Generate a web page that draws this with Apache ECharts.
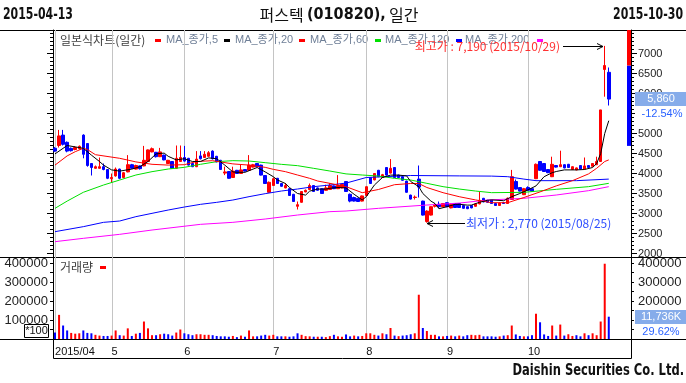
<!DOCTYPE html>
<html><head><meta charset="utf-8">
<script src="https://cdn.jsdelivr.net/npm/echarts@6/dist/echarts.min.js"></script>
<style>html,body{margin:0;padding:0;background:#fff}#c{width:686px;height:383px}</style>
</head><body><div id="c"></div>
<script>
// ---- trading days (categories) ----
const daysApr = [13,14,15,16,17,20,21,22,23,24,27,28,29,30];
const daysMay = [4,6,7,8,11,12,13,14,15,18,19,20,21,22,26,27,28,29];
const daysJun = [1,2,3,4,5,8,9,10,11,12,15,16,17,18,19,22,23,24,25,26,29,30];
const daysJul = [1,2,3,6,7,8,9,10,13,14,15,16,17,20,21,22,23,24,27,28,29,30,31];
const daysAug = [3,4,5,6,7,10,11,12,13,17,18,19,20,21,24,25,26,27,28,31];
const daysSep = [1,2,3,4,7,8,9,10,11,14,15,16,17,18,21,22,23,24,25,30];
const daysOct = [1,2,5,6,7,8,12,13,14,15,16,19,20,21,22,23,26,27,28,29,30];
const monthKeys = ['2015/04','2015/05','2015/06','2015/07','2015/08','2015/09','2015/10'];
const emptySlots = 5;

// ---- OHLC ----
const opens = [4630,4700,4960,4780,4630,4600,4620,4960,4750,4250, 4130,4130,4170,4100,3870,3940,4110,3900,4040,4220,
 4110,4190,4190,4300,4540,4530,4420,4460,4250,4300, 4130,4300,4400,4380,4250,4170,4440,4400,4430,4560,
 4430,4330,4010,4050,3900,4080,4000,4100,4080,4160, 4250,4210,3950,3530,3700,3880,3750,3640,3620,3480,
 3180,3280,3540,3600,3700,3640,3620,3580,3600,3690, 3620,3640,3800,3480,3400,3380,3310,3450,3900,3840,
 4080,3900,4150,4010,4150,3960,3920,3810,3460,3400, 3860,3310,2800,2960,3180,3230,3170,3270,3140,3250,
 3250,3200,3170,3200,3180,3240,3380,3330,3330,3250, 3200,3270,3250,3350,3800,3650,3470,3650,3620,3870,
 4300,4250,4100,3920,4200,4170,4220,4230,4100,4090, 4200,4110,4200,4180,4220,4300,6600,6530];
const closes = [4560,4940,4730,4560,4570,4650,4680,4480,4200,4150, 4170,4170,4100,3880,3900,4110,3880,4020,4220,4130,
 4200,4120,4330,4590,4620,4420,4540,4340,4330,4130, 4380,4400,4310,4210,4170,4360,4370,4480,4520,4370,
 4290,4100,4040,3880,4060,4000,4090,4060,4210,4220, 4170,3960,3750,3780,3870,3750,3680,3700,3450,3300,
 3220,3550,3580,3700,3550,3580,3500,3640,3700,3620, 3700,3730,3550,3310,3310,3300,3440,3670,3750,4000,
 3920,3970,3960,4130,3900,3900,3830,3530,3360,3410, 3660,2960,3060,3170,3210,3170,3250,3170,3230,3150,
 3150,3130,3120,3140,3240,3330,3290,3280,3250,3200, 3260,3250,3380,3920,3610,3560,3620,3580,3560,4230,
 4080,4050,4020,4230,4160,4220,4140,4150,4170,4140, 4110,4190,4150,4250,4300,5590,6700,5860];
const lows = [4540,4650,4700,4530,4550,4580,4600,4380,4170,3950, 4120,4120,4080,3860,3770,3920,3860,3880,4030,4120,
 4100,4100,4180,4290,4530,4400,4410,4330,4240,4120, 4120,4290,4300,4200,4160,4160,4350,4390,4420,4350,
 4280,4090,3960,3870,3890,3990,3990,4050,4070,4150, 4160,3950,3740,3520,3690,3740,3670,3630,3440,3290,
 3100,3270,3530,3590,3540,3570,3490,3570,3590,3610, 3610,3630,3540,3280,3300,3290,3300,3440,3740,3830,
 3910,3890,3950,4000,3890,3890,3820,3520,3350,3350, 3400,2950,2770,2950,3150,3130,3160,3160,3130,3140,
 3140,3120,3110,3130,3170,3230,3280,3270,3240,3190, 3190,3240,3240,3340,3600,3550,3460,3570,3550,3860,
 4070,4040,4010,3910,4150,4160,4130,4140,4090,4080, 4100,4100,4140,4170,4210,4290,5920,5700];
const highs = [4660,5090,5090,4800,4650,4680,4700,4980,4760,4260, 4200,4400,4250,4110,4000,4150,4120,4040,4460,4240,
 4220,4200,4690,4600,4650,4540,4640,4470,4340,4310, 4700,4700,4690,4390,4260,4560,4560,4560,4560,4580,
 4440,4340,4170,4060,4170,4090,4220,4110,4460,4240, 4260,4220,3960,3800,3900,3890,3760,3760,3630,3490,
 3300,3560,3600,3750,3710,3650,3630,3720,3760,3700, 3960,3740,3810,3500,3420,3390,3450,3680,3910,4010,
 4090,3990,4160,4360,4160,3970,3930,3820,3470,3450, 4200,3320,3080,3180,3260,3300,3260,3280,3250,3260,
 3260,3210,3180,3210,3260,3540,3390,3340,3340,3260, 3270,3290,3400,4090,3850,3660,3640,3680,3630,4250,
 4310,4260,4110,4420,4210,4570,4230,4240,4180,4150, 4210,4400,4210,4260,4420,5590,7190,6650];
// ---- volume (x100 shares) ----
const volumes = [34000,127000,71000,45000,32000,28000,30000,45000,32000,30000, 22000,18000,16000,16000,18000,45000,20000,18000,56000,16000,
 28000,32000,92000,56000,20000,20000,25000,28000,25000,18000, 34000,50000,30000,25000,20000,25000,25000,22000,22000,20000,
 16000,14000,14000,12000,16000,10000,18000,12000,45000,14000, 14000,18000,22000,18000,22000,14000,14000,14000,12000,14000,
 30000,22000,15000,14000,12000,12000,12000,10000,15000,22000, 14000,12000,24000,14000,18000,14000,16000,30000,30000,22000,
 18000,30000,25000,58000,18000,15000,18000,20000,25000,30000, 233000,58000,42000,22000,22000,14000,14000,16000,18000,14000,
 18000,14000,20000,22000,20000,22000,14000,14000,14000,12000, 14000,18000,20000,71000,24000,16000,14000,14000,20000,133000,
 88000,24000,16000,71000,18000,76000,18000,25000,16000,20000, 14000,30000,20000,30000,20000,92000,396200,117360];
// ---- moving averages: [dayIndex, value] ----
const ma5 = [[0,4490],[3,4700],[7,4630],[9,4460],[11,4300],[12,4210],[14,4090],[16,4060],[19,4110],[21,4170],[23,4300],[25,4490],[27,4510],[28,4430],[30,4340],[32,4370],[34,4300],[36,4300],[38,4390],[40,4370],[42,4210],[44,4040],[45,4030],[47,4030],[49,4110],[50,4150],[52,4040],[54,3920],[55,3840],[57,3750],[58,3650],[60,3500],[62,3460],[63,3560],[65,3610],[67,3610],[68,3630],[70,3650],[72,3640],[74,3480],[76,3340],[77,3420],[79,3710],[81,3900],[83,3960],[85,3960],[87,3940],[88,3800],[90,3670],[91,3500],[93,3310],[94,3250],[95,3120],[97,3170],[99,3230],[100,3230],[102,3210],[103,3210],[105,3280],[107,3330],[108,3340],[111,3320],[113,3420],[115,3500],[117,3590],[119,3690],[121,3920],[123,4020],[124,4050],[126,4090],[129,4090],[131,4100],[133,4150],[134,4250],[135,4500],[136,5000],[137,5320]];
const ma20 = [[0,4210],[3,4440],[5,4545],[7,4630],[8,4600],[10,4470],[16,4380],[20,4290],[24,4230],[28,4210],[32,4220],[35,4300],[39,4320],[44,4240],[48,4210],[52,4154],[54,4104],[57,4046],[60,3962],[63,3879],[65,3812],[68,3754],[72,3671],[76,3520],[80,3600],[84,3720],[88,3750],[90,3750],[92,3650],[96,3520],[100,3420],[104,3340],[108,3270],[112,3270],[116,3400],[120,3540],[124,3690],[128,3820],[132,3990],[134,4130],[136,4300],[137,4340]];
const ma60 = [[0,3130],[3,3310],[7,3530],[12,3712],[16,3837],[20,3962],[24,4046],[28,4112],[32,4154],[36,4230],[40,4296],[44,4321],[48,4312],[52,4271],[56,4229],[60,4196],[64,4129],[68,4062],[72,3990],[76,3962],[80,3937],[84,3879],[88,3837],[92,3754],[96,3671],[100,3612],[104,3562],[108,3521],[116,3529],[124,3604],[132,3671],[137,3754]];
const ma120 = [[0,2546],[7,2671],[12,2779],[16,2812],[20,2921],[24,3004],[28,3087],[32,3162],[36,3229],[40,3279],[44,3337],[48,3421],[52,3496],[56,3562],[60,3612],[64,3671],[68,3712],[72,3760],[77,3900],[88,3950],[100,3940],[108,3935],[112,3920],[116,3860],[119,3821],[129,3821],[137,3860]];
const ma200 = [[0,2296],[7,2379],[16,2479],[24,2587],[36,2729],[44,2779],[52,2862],[60,2962],[68,3046],[72,3062],[80,3129],[92,3212],[100,3260],[107,3337],[116,3379],[124,3462],[132,3571],[137,3671]];
// ---- price limits of the last day and tick labels ----
const limitLow = 4690, limitHigh = 8710;
const priceLabels = [2000,2500,3000,3500,4000,4500,5000,5500,6000,6500,7000];
const priceTicks = [2000,2100,2200,2300,2400,2500,2600,2700,2800,2900,3000,3100,3200,3300,3400,3500,3600,3700,3800,3900,4000,4100,4200,4300,4400,4500,4600,4700,4800,4900,5000,5100,5200,5300,5400,5500,5600,5700,5800,5900,6000,6100,6200,6300,6400,6500,6600,6700,6800,6900,7000,7100,7200,7300,7400,7500];
const volLabels = [100000,200000,300000,400000];
const volTicks = [50000,100000,150000,200000,250000,300000,350000,400000];

// ---------------------------------------------------------------
const dayLists = [daysApr,daysMay,daysJun,daysJul,daysAug,daysSep,daysOct];
const dates = [];
dayLists.forEach((ds, m) => ds.forEach(d => dates.push(monthKeys[m] + '/' + String(d).padStart(2,'0'))));
const categories = dates.concat(Array.from({length: emptySlots}, (_, i) => 'pad' + i));
const monthStarts = [];
dates.forEach((d, i) => { if (i === 0 || d.slice(0,7) !== dates[i-1].slice(0,7)) monthStarts.push(i); });
const monthStartSet = new Set(monthStarts);
const nDays = dates.length;
const candleData = dates.map((d, i) => [opens[i], closes[i], lows[i], highs[i]]);

let hiIdx = 0, loIdx = 0;
highs.forEach((v, i) => { if (v > highs[hiIdx]) hiIdx = i; });
lows.forEach((v, i) => { if (v < lows[loIdx]) loIdx = i; });

const PMIN = 1912.5, PMAX = 7587.5, VMIN = 0, VMAX = 431600;
const RED = '#ff0000', BLUE = '#0000ff';
const KFONT = '"Noto Sans CJK KR", sans-serif';
const NFONT = '"Liberation Sans", Arial, sans-serif';
const BFONT = '"Liberation Sans Narrow", "DejaVu Sans Condensed", "Liberation Sans", sans-serif';
const fmt = v => String(v).replace(/\B(?=(\d{3})+(?!\d))/g, ',');
const plain = v => String(v);

function vline(params, api) {
  const x = Math.round(api.coord([api.value(0), api.value(1)])[0]) + 0.5;
  const cs = params.coordSys;
  return {type: 'line', shape: {x1: x, y1: cs.y, x2: x, y2: cs.y + cs.height}, style: {stroke: '#c4c4c4', lineWidth: 1}};
}

const chart = echarts.init(document.getElementById('c'));
const lineSeries = (name, data, color) => ({
  type: 'line', name, data, xAxisIndex: 0, yAxisIndex: 0, showSymbol: false, symbol: 'none',
  lineStyle: {color, width: 1}, itemStyle: {color}, silent: true, animation: false, z: 4
});

const option = {
  animation: false,
  grid: [
    {left: 53, right: 55, top: 30, height: 227},
    {left: 53, right: 55, top: 257, height: 82}
  ],
  xAxis: [
    {type: 'category', gridIndex: 0, data: categories, boundaryGap: true,
     axisLine: {lineStyle: {color: '#000'}}, axisTick: {show: false}, axisLabel: {show: false}, splitLine: {show: false}},
    {type: 'category', gridIndex: 1, data: categories, boundaryGap: true,
     axisLine: {lineStyle: {color: '#000'}}, axisTick: {show: false}, splitLine: {show: false},
     axisLabel: {interval: (i) => monthStartSet.has(i), align: 'left', margin: 7, fontSize: 11, color: '#111', fontFamily: NFONT,
       formatter: (v, i) => i === 0 ? v.slice(0,7) : String(parseInt(v.slice(5,7), 10))}}
  ],
  yAxis: [
    {type: 'value', gridIndex: 0, position: 'right', min: PMIN, max: PMAX, splitLine: {show: false},
     axisLine: {show: true, lineStyle: {color: '#000'}},
     axisTick: {show: true, customValues: priceTicks, length: 3, lineStyle: {color: '#000'}},
     axisLabel: {customValues: priceLabels, formatter: plain, fontSize: 11, color: '#222', margin: 7, fontFamily: NFONT}},
    {type: 'value', gridIndex: 0, position: 'right', min: PMIN, max: PMAX, splitLine: {show: false},
     axisLine: {show: false}, axisTick: {show: true, customValues: priceLabels, length: 6, lineStyle: {color: '#000'}},
     axisLabel: {show: false}},
    {type: 'value', gridIndex: 0, position: 'left', min: PMIN, max: PMAX, splitLine: {show: false},
     axisLine: {show: true, lineStyle: {color: '#000'}},
     axisTick: {show: true, customValues: priceTicks, length: 3, lineStyle: {color: '#000'}}, axisLabel: {show: false}},
    {type: 'value', gridIndex: 0, position: 'left', min: PMIN, max: PMAX, splitLine: {show: false},
     axisLine: {show: false}, axisTick: {show: true, customValues: priceLabels, length: 6, lineStyle: {color: '#000'}},
     axisLabel: {show: false}},
    {type: 'value', gridIndex: 1, position: 'left', min: VMIN, max: VMAX, splitLine: {show: false},
     axisLine: {show: true, lineStyle: {color: '#000'}},
     axisTick: {show: true, customValues: volTicks, length: 3, lineStyle: {color: '#000'}},
     axisLabel: {customValues: volLabels, formatter: plain, fontSize: 13, color: '#222', margin: 5, fontFamily: NFONT}},
    {type: 'value', gridIndex: 1, position: 'right', min: VMIN, max: VMAX, splitLine: {show: false},
     axisLine: {show: true, lineStyle: {color: '#000'}},
     axisTick: {show: true, customValues: volTicks, length: 3, lineStyle: {color: '#000'}},
     axisLabel: {customValues: volLabels, formatter: plain, fontSize: 13, color: '#222', margin: 7, fontFamily: NFONT}}
  ],
  series: [
    {type: 'custom', xAxisIndex: 0, yAxisIndex: 0, data: monthStarts.map(i => [i, 3000]), renderItem: vline, silent: true, z: 1},
    {type: 'custom', xAxisIndex: 1, yAxisIndex: 4, data: monthStarts.map(i => [i, 100000]), renderItem: vline, silent: true, z: 1},
    lineSeries('MA_종가,200', ma200, '#ff00ff'),
    lineSeries('MA_종가,120', ma120, '#0000ff'),
    lineSeries('MA_종가,60', ma60, '#00e000'),
    {type: 'candlestick', name: '일본식차트(일간)', xAxisIndex: 0, yAxisIndex: 0, data: candleData, barWidth: 3,
     itemStyle: {color: RED, color0: BLUE, borderColor: RED, borderColor0: BLUE, borderWidth: 1}, silent: true, z: 3},
    lineSeries('MA_종가,20', ma20, '#ff0000'),
    lineSeries('MA_종가,5', ma5, '#000000'),
    {type: 'bar', name: '거래량', xAxisIndex: 1, yAxisIndex: 4, data: volumes, barWidth: 2, silent: true,
     itemStyle: {color: p => { const i = p.dataIndex; const prev = i > 0 ? closes[i-1] : opens[i]; return closes[i] >= prev ? RED : BLUE; }}},
    // high / low annotations
    {type: 'custom', xAxisIndex: 0, yAxisIndex: 0, silent: true, z: 10,
     data: [[hiIdx, highs[hiIdx], 1], [loIdx, lows[loIdx], 0]],
     renderItem: (params, api) => {
       const idx = api.value(0), val = api.value(1), isHi = api.value(2) === 1;
       const p = api.coord([idx, val]);
       const txt = (isHi ? '최고가 : ' : '최저가 : ') + fmt(val) + ' (' + dates[idx] + ')';
       const ty = Math.round(p[1]) + 0.5;
       if (isHi) {
         const tx = Math.round(p[0]) - 2;
         return {type: 'group', children: [
           {type: 'line', shape: {x1: tx - 40, y1: ty, x2: tx, y2: ty}, style: {stroke: '#000', lineWidth: 1}},
           {type: 'polyline', shape: {points: [[tx - 6, ty - 3], [tx, ty], [tx - 6, ty + 3]]}, style: {stroke: '#000', fill: null, lineWidth: 1}},
           {type: 'text', style: {text: txt, x: tx - 43, y: ty, align: 'right', verticalAlign: 'middle', fill: '#ff3030', fontSize: 12, fontFamily: KFONT}}
         ]};
       }
       const tx = Math.round(p[0]);
       return {type: 'group', children: [
         {type: 'line', shape: {x1: tx, y1: ty, x2: tx + 38, y2: ty}, style: {stroke: '#000', lineWidth: 1}},
         {type: 'polyline', shape: {points: [[tx + 6, ty - 3], [tx, ty], [tx + 6, ty + 3]]}, style: {stroke: '#000', fill: null, lineWidth: 1}},
         {type: 'text', style: {text: txt, x: tx + 39, y: ty, align: 'left', verticalAlign: 'middle', fill: '#2f4fff', fontSize: 12, fontFamily: KFONT}}
       ]};
     }},
    // price limit bar on the last slot
    {type: 'custom', xAxisIndex: 0, yAxisIndex: 0, silent: true, z: 6,
     data: [[categories.length - 1, limitLow, closes[nDays - 2], limitHigh]],
     renderItem: (params, api) => {
       const cs = params.coordSys;
       const x = api.coord([api.value(0), api.value(1)])[0];
       const yLo = api.coord([api.value(0), api.value(1)])[1];
       const yMid = api.coord([api.value(0), api.value(2)])[1];
       const yHi = Math.max(cs.y, api.coord([api.value(0), api.value(3)])[1]);
       return {type: 'group', children: [
         {type: 'rect', shape: {x: x - 2, y: yMid, width: 4, height: yLo - yMid}, style: {fill: BLUE}},
         {type: 'rect', shape: {x: x - 2, y: yHi, width: 4, height: yMid - yHi}, style: {fill: RED}}
       ]};
     }},
    // last price box
    {type: 'custom', xAxisIndex: 0, yAxisIndex: 0, silent: true, z: 12,
     data: [[nDays - 1, closes[nDays - 1], closes[nDays - 2]]],
     renderItem: (params, api) => {
       const cs = params.coordSys;
       const y = Math.round(api.coord([api.value(0), api.value(1)])[1]);
       const x0 = cs.x + cs.width + 4;
       const pct = ((api.value(1) - api.value(2)) / api.value(2) * 100).toFixed(2) + '%';
       return {type: 'group', children: [
         {type: 'rect', shape: {x: x0, y: y - 7, width: 686 - x0, height: 14}, style: {fill: '#86acea'}},
         {type: 'rect', shape: {x: x0, y: y + 8, width: 686 - x0, height: 14}, style: {fill: '#fff'}},
         {type: 'text', style: {text: fmt(api.value(1)), x: x0 + 26, y: y, align: 'center', verticalAlign: 'middle', fill: '#fff', fontSize: 11, fontFamily: NFONT}},
         {type: 'text', style: {text: pct, x: x0 + 27, y: y + 15, align: 'center', verticalAlign: 'middle', fill: '#2a62ff', fontSize: 11, fontFamily: NFONT}}
       ]};
     }},
    // last volume box
    {type: 'custom', xAxisIndex: 1, yAxisIndex: 4, silent: true, z: 12,
     data: [[nDays - 1, volumes[nDays - 1], volumes[nDays - 2]]],
     renderItem: (params, api) => {
       const cs = params.coordSys;
       const y = Math.round(api.coord([api.value(0), api.value(1)])[1]);
       const x0 = cs.x + cs.width + 4;
       const ratio = (api.value(1) / api.value(2) * 100).toFixed(2) + '%';
       const txt = fmt(Math.round(api.value(1) * 100 / 1000)) + 'K';
       return {type: 'group', children: [
         {type: 'rect', shape: {x: x0, y: y - 7, width: 686 - x0, height: 14}, style: {fill: '#86acea'}},
         {type: 'text', style: {text: txt, x: x0 + 26, y: y, align: 'center', verticalAlign: 'middle', fill: '#fff', fontSize: 11, fontFamily: NFONT}},
         {type: 'text', style: {text: ratio, x: x0 + 26, y: y + 15, align: 'center', verticalAlign: 'middle', fill: '#2a62ff', fontSize: 11, fontFamily: NFONT}}
       ]};
     }}
  ],
  graphic: [
    {type: 'text', x: 3, y: 15, scaleX: 0.76, style: {text: dates[0].replace(/\//g, '-'), verticalAlign: 'middle', fill: '#111', font: 'bold 16px ' + BFONT}},
    {type: 'text', x: 683, y: 15, scaleX: 0.76, style: {text: dates[nDays - 1].replace(/\//g, '-'), align: 'right', verticalAlign: 'middle', fill: '#111', font: 'bold 16px ' + BFONT}},
    {type: 'text', x: 339, y: 15, style: {text: '{k|퍼스텍} {d|(010820),} {k|일간}', align: 'center', verticalAlign: 'middle',
      rich: {k: {fontSize: 16, fontFamily: KFONT, fill: '#111'}, d: {fontSize: 16, fontWeight: 'bold', fontFamily: BFONT, fill: '#111'}}}},
    {type: 'line', shape: {x1: 0, y1: 30.5, x2: 686, y2: 30.5}, style: {stroke: '#000', lineWidth: 1}},
    {type: 'line', shape: {x1: 0, y1: 257.5, x2: 686, y2: 257.5}, style: {stroke: '#000', lineWidth: 1}},
    {type: 'line', shape: {x1: 0, y1: 339.5, x2: 686, y2: 339.5}, style: {stroke: '#000', lineWidth: 1}},
    {type: 'rect', shape: {x: 53.5, y: 339.5, width: 578, height: 19}, style: {fill: null, stroke: '#000', lineWidth: 1}},
    {type: 'text', x: 684, y: 371, scaleX: 0.8, style: {text: 'Daishin Securities Co. Ltd.', align: 'right', verticalAlign: 'middle', fill: '#111', font: 'bold 16px ' + BFONT}},
    // legend (main)
    {type: 'text', x: 60, y: 40, style: {text: '일본식차트(일간)', verticalAlign: 'middle', fill: '#404040', fontSize: 12, fontFamily: KFONT}},
    {type: 'rect', shape: {x: 155, y: 39, width: 6, height: 3}, style: {fill: RED}},
    {type: 'text', x: 166, y: 40, style: {text: 'MA_종가,5', verticalAlign: 'middle', fill: '#6f7f97', fontSize: 11, fontFamily: NFONT + ',' + KFONT}},
    {type: 'rect', shape: {x: 224, y: 39, width: 6, height: 3}, style: {fill: '#000'}},
    {type: 'text', x: 235, y: 40, style: {text: 'MA_종가,20', verticalAlign: 'middle', fill: '#6f7f97', fontSize: 11, fontFamily: NFONT + ',' + KFONT}},
    {type: 'rect', shape: {x: 299, y: 39, width: 6, height: 3}, style: {fill: RED}},
    {type: 'text', x: 310, y: 40, style: {text: 'MA_종가,60', verticalAlign: 'middle', fill: '#6f7f97', fontSize: 11, fontFamily: NFONT + ',' + KFONT}},
    {type: 'rect', shape: {x: 375, y: 39, width: 6, height: 3}, style: {fill: '#00e000'}},
    {type: 'text', x: 385, y: 40, style: {text: 'MA_종가,120', verticalAlign: 'middle', fill: '#6f7f97', fontSize: 11, fontFamily: NFONT + ',' + KFONT}},
    {type: 'rect', shape: {x: 456, y: 39, width: 6, height: 3}, style: {fill: BLUE}},
    {type: 'text', x: 465, y: 40, style: {text: 'MA_종가,200', verticalAlign: 'middle', fill: '#6f7f97', fontSize: 11, fontFamily: NFONT + ',' + KFONT}},
    {type: 'rect', shape: {x: 537, y: 39, width: 6, height: 3}, style: {fill: '#ff00ff'}},
    // legend (volume)
    {type: 'text', x: 60, y: 267, style: {text: '거래량', verticalAlign: 'middle', fill: '#404040', fontSize: 12, fontFamily: KFONT}},
    {type: 'rect', shape: {x: 100, y: 266, width: 6, height: 3}, style: {fill: RED}},
    // *100 unit box
    {type: 'rect', shape: {x: 24.5, y: 324.5, width: 24, height: 13}, style: {fill: '#fff', stroke: '#000', lineWidth: 1}},
    {type: 'text', x: 36.5, y: 331, style: {text: '*100', align: 'center', verticalAlign: 'middle', fill: '#111', fontSize: 11, fontFamily: NFONT}}
  ]
};
chart.setOption(option);
</script>
</body></html>
